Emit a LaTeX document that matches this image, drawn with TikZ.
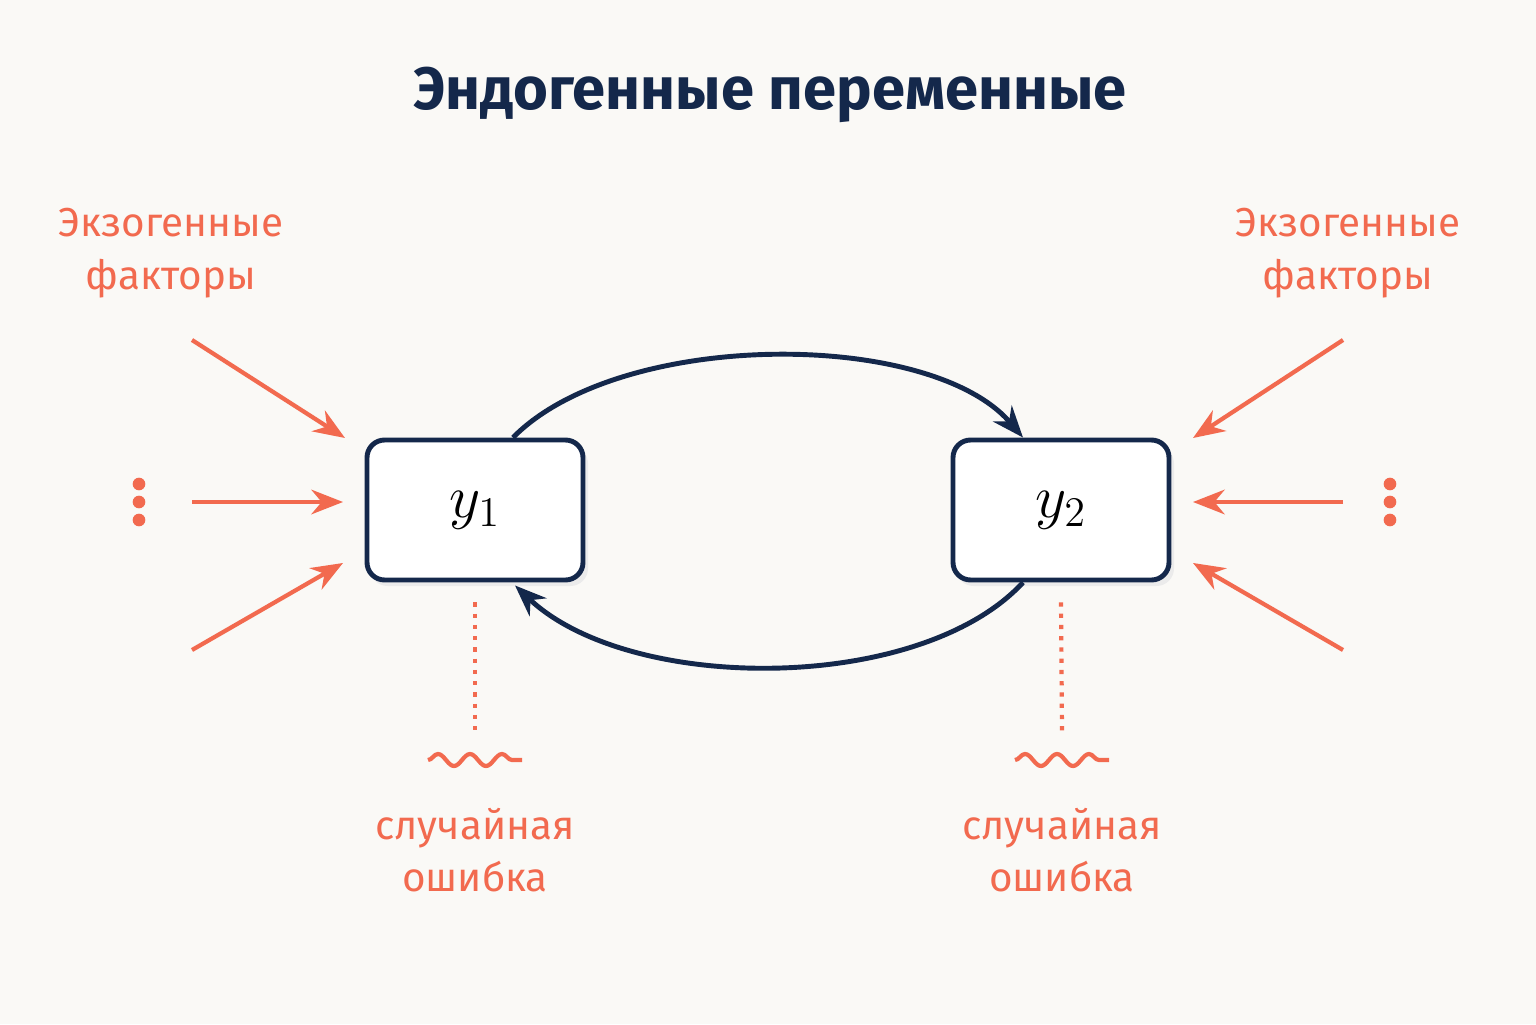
\documentclass[tikz,border=0pt]{standalone}
\usepackage{fontspec}
\setmainfont{Fira Sans}
\usepackage{amsmath}
\usetikzlibrary{calc}
\usetikzlibrary{arrows.meta}
\usetikzlibrary{decorations.pathmorphing}
\definecolor{navy}{HTML}{14284B}
\definecolor{coral}{HTML}{F26A4F}
\definecolor{paper}{HTML}{FAF9F6}
\tikzset{
  endo/.style={draw=navy, line width=1.4pt, rounded corners=5pt, fill=white, minimum width=2.16cm, minimum height=1.4cm},
  exo/.style={->, coral, line width=1.2pt, >={Stealth[length=9pt,width=7pt]}},
  loop/.style={->, navy, line width=1.4pt, >={Stealth[length=9pt,width=7pt]}},
  lbl/.style={coral, font=\fontsize{11.5}{15}\selectfont, align=center},
  wave/.style={coral, line width=1.2pt, decorate, decoration={snake, segment length=0.32cm, amplitude=0.06cm}},
}
\begin{document}
\begin{tikzpicture}
  \fill[paper] (0,0) rectangle (15.36,10.24);
  \useasboundingbox (0,0) rectangle (15.36,10.24);

  \node[navy, font=\fontsize{17}{20}\selectfont\bfseries] (title) at (7.7,9.29) {Эндогенные переменные};

  % shadows
  \fill[black!8, rounded corners=5pt] (3.70,4.38) rectangle (5.88,5.78);
  \fill[black!8, rounded corners=5pt] (9.56,4.38) rectangle (11.74,5.78);

  \node[endo] (y1) at (4.75,5.14) {\LARGE $y_1$};
  \node[endo] (y2) at (10.61,5.14) {\LARGE $y_2$};

  \node[lbl] (exoL) at (1.71,7.71) {Экзогенные\\факторы};
  \node[lbl] (exoR) at (13.48,7.71) {Экзогенные\\факторы};

  \coordinate (l1) at (1.92,6.84);
  \coordinate (l2) at (1.92,5.22);
  \coordinate (l3) at (1.92,3.74);
  \coordinate (r1) at (13.43,6.84);
  \coordinate (r2) at (13.43,5.22);
  \coordinate (r3) at (13.43,3.74);

  \draw[exo] (l1) -- (3.45,5.86);
  \draw[exo] (l2) -- (3.43,5.22);
  \draw[exo] (l3) -- (3.43,4.61);
  \draw[exo] (r1) -- (11.93,5.86);
  \draw[exo] (r2) -- (11.93,5.22);
  \draw[exo] (r3) -- (11.93,4.61);

  \foreach \y in {5.40,5.22,5.04} {
    \fill[coral] (1.39,\y) circle (1.8pt);
    \fill[coral] (13.90,\y) circle (1.8pt);
  }

  \draw[loop] ($(y1.north)+(0.38,0)$) .. controls (6.2,6.95) and (9.3,6.95) .. ($(y2.north)+(-0.38,0)$);
  \draw[loop] ($(y2.south)+(-0.38,0)$) .. controls (9.2,3.3) and (6.3,3.3) .. ($(y1.south)+(0.4,-0.03)$);

  \coordinate (e1) at (4.75,2.91);
  \coordinate (e2) at (10.62,2.91);
  \draw[coral, line width=1.2pt, dotted] ($(y1.south)+(0,-0.2)$) -- (e1);
  \draw[coral, line width=1.2pt, dotted] ($(y2.south)+(0,-0.2)$) -- (e2);

  \draw[wave] (4.28,2.64) -- (5.22,2.64);
  \draw[wave] (10.15,2.64) -- (11.09,2.64);

  \node[lbl] (errL) at (4.75,1.74) {случайная\\ошибка};
  \node[lbl] (errR) at (10.62,1.74) {случайная\\ошибка};
\end{tikzpicture}
\end{document}
